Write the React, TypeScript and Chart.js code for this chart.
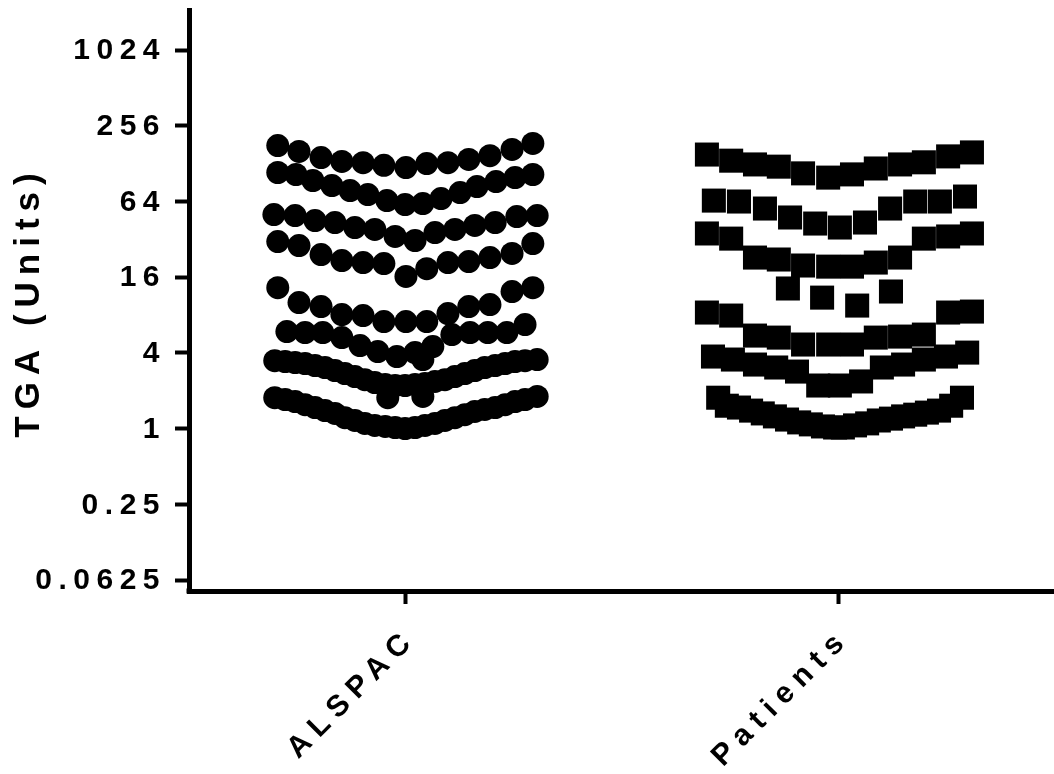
import React, { useEffect, useRef } from "react";
import { Chart, registerables } from "chart.js";

Chart.register(...registerables);

const categories = ["ALSPAC", "Patients"];
const yTickValues = [0.0625, 0.25, 1, 4, 16, 64, 256, 1024];
const yTickLabels = ["0.0625", "0.25", "1", "4", "16", "64", "256", "1024"];
const yAxisTitle = "TGA (Units)";

// ALSPAC values (TGA units), one line per visual row of the swarm
const alspacValues = [
  178, 160, 143, 133, 130, 124, 119, 128, 130, 138, 148, 166, 185,
  108.7, 104.8, 93.9, 85.6, 78.1, 72.6, 65.0, 60.5, 61.6, 67.5, 75.3, 84.1, 92.1, 99.1, 104.8,
  50.3, 49.4, 45.1, 43.5, 39.7, 38.3, 33.7, 31.3, 36.2, 38.3, 41.2, 43.5, 48.5, 49.4,
  30.7, 28.5, 24.2, 21.7, 20.9, 20.5, 16.2, 18.7, 20.9, 21.3, 22.9, 24.7, 29.6,
  13.2, 10.05, 9.34, 8.07, 7.92, 7.1, 7.1, 7.1, 8.21, 9.34, 9.69, 12.3, 13.2,
  5.91, 5.8, 5.8, 5.29, 4.57, 4.1, 3.74, 4.02, 3.54, 4.49, 5.59, 5.8, 5.8, 5.8, 6.72,
  3.47, 3.41, 3.35, 3.29, 3.17, 3.06, 2.89, 2.74, 2.59, 2.45, 2.32, 2.24, 1.76, 2.2, 2.2, 2.24, 1.8, 2.28, 2.37, 2.45, 2.59, 2.74, 2.89, 3.06, 3.17, 3.29, 3.41, 3.47, 3.54,
  1.76, 1.7, 1.64, 1.55, 1.47, 1.39, 1.32, 1.22, 1.16, 1.1, 1.06, 1.04, 1.02, 1.0, 1.02, 1.06, 1.1, 1.16, 1.22, 1.29, 1.37, 1.42, 1.47, 1.55, 1.64, 1.7, 1.8,
];
// horizontal swarm offset of each ALSPAC point, in category widths
const alspacJitter = [
  -0.296, -0.247, -0.196, -0.148, -0.099, -0.051, 0, 0.048, 0.097, 0.145, 0.194, 0.245, 0.293,
  -0.296, -0.254, -0.215, -0.171, -0.129, -0.088, -0.044, -0.002, 0.039, 0.081, 0.125, 0.164, 0.208, 0.252, 0.293,
  -0.305, -0.256, -0.21, -0.164, -0.118, -0.072, -0.025, 0.021, 0.067, 0.113, 0.159, 0.206, 0.256, 0.303,
  -0.296, -0.247, -0.196, -0.148, -0.099, -0.051, 0, 0.048, 0.097, 0.145, 0.194, 0.245, 0.293,
  -0.296, -0.247, -0.196, -0.148, -0.099, -0.051, 0, 0.048, 0.097, 0.145, 0.194, 0.245, 0.293,
  -0.275, -0.233, -0.192, -0.148, -0.106, -0.065, -0.021, 0.021, 0.039, 0.062, 0.106, 0.148, 0.189, 0.233, 0.275,
  -0.303, -0.279, -0.256, -0.233, -0.21, -0.187, -0.164, -0.141, -0.118, -0.095, -0.072, -0.048, -0.042, -0.025, -0.002, 0.021, 0.039, 0.044, 0.067, 0.09, 0.113, 0.136, 0.159, 0.182, 0.206, 0.229, 0.252, 0.275, 0.303,
  -0.303, -0.279, -0.256, -0.233, -0.21, -0.187, -0.164, -0.141, -0.118, -0.095, -0.072, -0.048, -0.025, -0.002, 0.021, 0.044, 0.067, 0.09, 0.113, 0.136, 0.159, 0.182, 0.206, 0.229, 0.252, 0.275, 0.303,
];

// Patients values (TGA units)
const patientsValues = [
  151, 135, 126, 121, 107, 99, 105, 117, 126, 131, 146, 157,
  65.0, 63.9, 56.2, 47.7, 42.7, 39.7, 43.5, 56.2, 63.9, 63.9, 70.0,
  35.6, 32.4, 22.9, 22.1, 19.8, 19.4, 19.4, 20.9, 22.9, 32.4, 33.7, 35.6,
  13.0, 11.0, 9.51, 12.3,
  8.37, 7.92, 5.49, 5.29, 4.66, 4.66, 4.66, 5.29, 5.39, 5.59, 8.37, 8.52,
  3.74, 3.54, 3.23, 3.06, 2.84, 2.2, 2.2, 2.37, 3.06, 3.23, 3.54, 3.74, 4.02,
  1.76, 1.52, 1.47, 1.39, 1.32, 1.25, 1.18, 1.12, 1.08, 1.04, 1.02, 1.02, 1.06, 1.1, 1.16, 1.2, 1.25, 1.29, 1.34, 1.39, 1.52, 1.76,
];
const patientsJitter = [
  -0.305, -0.249, -0.194, -0.139, -0.083, -0.025, 0.03, 0.085, 0.141, 0.196, 0.252, 0.307,
  -0.289, -0.231, -0.171, -0.113, -0.055, 0.002, 0.06, 0.118, 0.176, 0.233, 0.291,
  -0.305, -0.249, -0.194, -0.139, -0.083, -0.025, 0.03, 0.085, 0.141, 0.196, 0.252, 0.307,
  -0.118, -0.039, 0.042, 0.12,
  -0.305, -0.249, -0.194, -0.139, -0.083, -0.025, 0.03, 0.085, 0.141, 0.196, 0.252, 0.307,
  -0.291, -0.245, -0.194, -0.145, -0.097, -0.048, 0.002, 0.051, 0.099, 0.148, 0.196, 0.247, 0.296,
  -0.279, -0.259, -0.231, -0.203, -0.176, -0.148, -0.12, -0.092, -0.065, -0.037, -0.009, 0.009, 0.037, 0.065, 0.092, 0.12, 0.148, 0.176, 0.203, 0.231, 0.259, 0.284,
];

const FONT = '"Liberation Sans", Arial, Helvetica, sans-serif';

const textPlugin = {
  id: "spacedText",
  afterDraw(chart: any) {
    const ctx = chart.ctx as CanvasRenderingContext2D & { letterSpacing?: string };
    const ys = chart.scales.y;
    const xs = chart.scales.x;
    ctx.save();
    ctx.fillStyle = "#000";

    // y tick labels
    ctx.font = `bold 30px ${FONT}`;
    ctx.letterSpacing = "6.5px";
    ctx.textAlign = "right";
    ctx.textBaseline = "middle";
    yTickValues.forEach((v, i) => {
      ctx.fillText(yTickLabels[i], ys.right - 23, ys.getPixelForValue(v) + 1);
    });

    // y axis title
    ctx.save();
    ctx.font = `bold 35px ${FONT}`;
    ctx.letterSpacing = "7px";
    ctx.textAlign = "center";
    ctx.textBaseline = "middle";
    ctx.translate(29, 305);
    ctx.rotate(-Math.PI / 2);
    ctx.fillText(yAxisTitle, 3, 0);
    ctx.restore();

    // x category labels (rotated 45deg)
    ctx.font = `bold 30px ${FONT}`;
    ctx.letterSpacing = "8px";
    ctx.textAlign = "right";
    ctx.textBaseline = "middle";
    categories.forEach((c, i) => {
      const px = xs.getPixelForValue(i);
      ctx.save();
      ctx.translate(px + 6, xs.top + 43);
      ctx.rotate(-Math.PI / 4);
      ctx.fillText(c, 0, 0);
      ctx.restore();
    });

    // close the axis corner
    ctx.fillRect(ys.right - 2.5, xs.top - 2.5, 5, 5);
    ctx.restore();
  },
};

export default function App() {
  const ref = useRef<HTMLCanvasElement | null>(null);
  useEffect(() => {
    if (!ref.current) return;
    const chart = new Chart(ref.current, {
      type: "scatter",
      data: {
        datasets: [
          {
            label: categories[0],
            data: alspacValues.map((v, i) => ({ x: 0 + alspacJitter[i], y: v })),
            pointStyle: "circle",
            pointRadius: 11.5,
            pointHoverRadius: 11.5,
            backgroundColor: "#000",
            borderColor: "#000",
            borderWidth: 0,
            clip: false,
          },
          {
            label: categories[1],
            data: patientsValues.map((v, i) => ({ x: 1 + patientsJitter[i], y: v })),
            pointStyle: "rect",
            pointRadius: 17,
            pointHoverRadius: 17,
            backgroundColor: "#000",
            borderColor: "#000",
            borderWidth: 0,
            clip: false,
          },
        ],
      },
      options: {
        responsive: false,
        animation: false,
        events: [],
        layout: { autoPadding: false, padding: { top: 10, left: 0, right: 0, bottom: 0 } },
        plugins: { legend: { display: false }, tooltip: { enabled: false }, title: { display: false } },
        scales: {
          x: {
            type: "linear",
            min: -0.501,
            max: 1.4965,
            ticks: { display: false },
            grid: { display: true, drawOnChartArea: false, drawTicks: true, tickLength: 13, tickWidth: 4, tickColor: "#000" },
            border: { display: true, color: "#000", width: 5 },
            afterBuildTicks: (s: any) => {
              s.ticks = categories.map((_, i) => ({ value: i }));
            },
            afterFit: (s: any) => {
              s.height = 183;
            },
          },
          y: {
            type: "logarithmic",
            min: 0.05112,
            max: 2130,
            ticks: { display: false },
            grid: { display: true, drawOnChartArea: false, drawTicks: true, tickLength: 14, tickWidth: 4, tickColor: "#000" },
            border: { display: true, color: "#000", width: 5 },
            afterBuildTicks: (s: any) => {
              s.ticks = yTickValues.map((v) => ({ value: v }));
            },
            afterFit: (s: any) => {
              s.width = 189;
            },
          },
        },
      },
      plugins: [textPlugin],
    } as any);
    return () => chart.destroy();
  }, []);
  return (
    <div style={{ position: "absolute", left: 0, top: 0, width: 1054, height: 774, background: "#fff" }}>
      <canvas ref={ref} width={1054} height={774} style={{ display: "block" }} />
    </div>
  );
}
